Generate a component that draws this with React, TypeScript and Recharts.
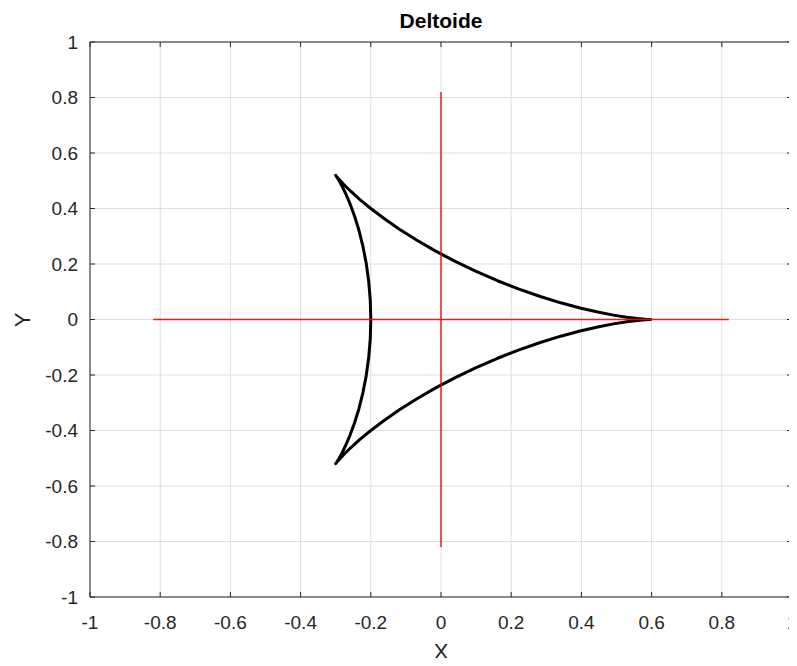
import React from 'react';
import { LineChart, Line, XAxis, YAxis, CartesianGrid } from 'recharts';

const axisTicks = [-1, -0.8, -0.6, -0.4, -0.2, 0, 0.2, 0.4, 0.6, 0.8, 1];

const chartTitle = 'Deltoide';
const xLabel = 'X';
const yLabel = 'Y';

// Deltoid curve points (closed path)
const deltoid = [
  { x: 0.6, y: 0 },
  { x: 0.5954, y: 0.0001 },
  { x: 0.5819, y: 0.0011 },
  { x: 0.5596, y: 0.0035 },
  { x: 0.5291, y: 0.0083 },
  { x: 0.4911, y: 0.0158 },
  { x: 0.4464, y: 0.0268 },
  { x: 0.3961, y: 0.0415 },
  { x: 0.3411, y: 0.0601 },
  { x: 0.2828, y: 0.0828 },
  { x: 0.2224, y: 0.1095 },
  { x: 0.161, y: 0.1397 },
  { x: 0.1, y: 0.1732 },
  { x: 0.0405, y: 0.2093 },
  { x: -0.0164, y: 0.2473 },
  { x: -0.0697, y: 0.2864 },
  { x: -0.1185, y: 0.3255 },
  { x: -0.1621, y: 0.3638 },
  { x: -0.2, y: 0.4 },
  { x: -0.2318, y: 0.4332 },
  { x: -0.2574, y: 0.4623 },
  { x: -0.2767, y: 0.4864 },
  { x: -0.29, y: 0.5044 },
  { x: -0.2976, y: 0.5157 },
  { x: -0.3, y: 0.5196 },
  { x: -0.2978, y: 0.5156 },
  { x: -0.2919, y: 0.5034 },
  { x: -0.2828, y: 0.4828 },
  { x: -0.2717, y: 0.4541 },
  { x: -0.2593, y: 0.4174 },
  { x: -0.2464, y: 0.3732 },
  { x: -0.234, y: 0.3223 },
  { x: -0.2227, y: 0.2654 },
  { x: -0.2132, y: 0.2035 },
  { x: -0.206, y: 0.1379 },
  { x: -0.2015, y: 0.0696 },
  { x: -0.2, y: 0 },
  { x: -0.2015, y: -0.0696 },
  { x: -0.206, y: -0.1379 },
  { x: -0.2132, y: -0.2035 },
  { x: -0.2227, y: -0.2654 },
  { x: -0.234, y: -0.3223 },
  { x: -0.2464, y: -0.3732 },
  { x: -0.2593, y: -0.4174 },
  { x: -0.2717, y: -0.4541 },
  { x: -0.2828, y: -0.4828 },
  { x: -0.2919, y: -0.5034 },
  { x: -0.2978, y: -0.5156 },
  { x: -0.3, y: -0.5196 },
  { x: -0.2976, y: -0.5157 },
  { x: -0.29, y: -0.5044 },
  { x: -0.2767, y: -0.4864 },
  { x: -0.2574, y: -0.4623 },
  { x: -0.2318, y: -0.4332 },
  { x: -0.2, y: -0.4 },
  { x: -0.1621, y: -0.3638 },
  { x: -0.1185, y: -0.3255 },
  { x: -0.0697, y: -0.2864 },
  { x: -0.0164, y: -0.2473 },
  { x: 0.0405, y: -0.2093 },
  { x: 0.1, y: -0.1732 },
  { x: 0.161, y: -0.1397 },
  { x: 0.2224, y: -0.1095 },
  { x: 0.2828, y: -0.0828 },
  { x: 0.3411, y: -0.0601 },
  { x: 0.3961, y: -0.0415 },
  { x: 0.4464, y: -0.0268 },
  { x: 0.4911, y: -0.0158 },
  { x: 0.5291, y: -0.0083 },
  { x: 0.5596, y: -0.0035 },
  { x: 0.5819, y: -0.0011 },
  { x: 0.5954, y: -0.0001 },
  { x: 0.6, y: 0 },
];

// Red reference axes
const horizontalAxisLine = [
  { x: -0.82, y: 0 },
  { x: 0.82, y: 0 },
];
const verticalAxisLine = [
  { x: 0, y: -0.82 },
  { x: 0, y: 0.82 },
];

const FONT = '"Liberation Sans", Arial, Helvetica, sans-serif';
const AXIS_COLOR = '#262626';
const tickStyle = { fill: AXIS_COLOR, fontSize: 19, fontFamily: FONT };
const fmt = (v: number) => String(v);
const blank = () => '';

const W = 797;
const H = 666;

export default function App() {
  return (
    <div
      style={{
        position: 'relative',
        width: W,
        height: H,
        margin: -8,
        fontFamily: FONT,
        background: '#fff',
        overflow: 'hidden',
      }}
    >
      <LineChart width={W} height={H} margin={{ top: 0, right: 0, bottom: 0, left: 0 }}>
        <CartesianGrid stroke="#dedede" strokeWidth={1} />
        <XAxis
          xAxisId={0}
          type="number"
          dataKey="x"
          domain={[-1, 1]}
          ticks={axisTicks}
          interval={0}
          tickFormatter={fmt}
          height={69}
          stroke={AXIS_COLOR}
          tickSize={-5}
          tickMargin={24}
          tick={tickStyle}
          allowDataOverflow
        />
        <XAxis
          xAxisId="top"
          orientation="top"
          type="number"
          dataKey="x"
          domain={[-1, 1]}
          ticks={axisTicks}
          interval={0}
          tickFormatter={blank}
          height={42}
          stroke={AXIS_COLOR}
          tickSize={-5}
          allowDataOverflow
        />
        <YAxis
          yAxisId={0}
          type="number"
          dataKey="y"
          domain={[-1, 1]}
          ticks={axisTicks}
          interval={0}
          tickFormatter={fmt}
          width={90}
          stroke={AXIS_COLOR}
          tickSize={-5}
          tickMargin={17}
          tick={tickStyle}
          allowDataOverflow
        />
        <YAxis
          yAxisId="right"
          orientation="right"
          type="number"
          dataKey="y"
          domain={[-1, 1]}
          ticks={axisTicks}
          interval={0}
          tickFormatter={blank}
          width={5}
          stroke={AXIS_COLOR}
          tickSize={-5}
          allowDataOverflow
        />
        <Line
          data={deltoid}
          dataKey="y"
          type="linear"
          stroke="#000000"
          strokeWidth={3}
          strokeLinejoin="round"
          dot={false}
          activeDot={false}
          isAnimationActive={false}
        />
        <Line
          data={horizontalAxisLine}
          dataKey="y"
          type="linear"
          stroke="#ff0000"
          strokeWidth={1.5}
          strokeOpacity={0.9}
          dot={false}
          activeDot={false}
          isAnimationActive={false}
        />
        <Line
          data={verticalAxisLine}
          dataKey="y"
          type="linear"
          stroke="#ff0000"
          strokeWidth={1.5}
          strokeOpacity={0.9}
          dot={false}
          activeDot={false}
          isAnimationActive={false}
        />
      </LineChart>
      <div
        style={{
          position: 'absolute',
          left: 90,
          width: 702,
          top: 10,
          height: 21,
          lineHeight: '21px',
          fontSize: 21,
          fontWeight: 'bold',
          textAlign: 'center',
          color: '#000',
        }}
      >
        {chartTitle}
      </div>
      <div
        style={{
          position: 'absolute',
          left: 90,
          width: 702,
          top: 641,
          height: 22,
          lineHeight: '22px',
          fontSize: 22,
          textAlign: 'center',
          color: AXIS_COLOR,
        }}
      >
        {xLabel}
      </div>
      <div
        style={{
          position: 'absolute',
          left: 22 - 277.5,
          width: 555,
          top: 319.5 - 11,
          height: 22,
          lineHeight: '22px',
          fontSize: 22,
          textAlign: 'center',
          color: AXIS_COLOR,
          transform: 'rotate(-90deg)',
        }}
      >
        {yLabel}
      </div>
    </div>
  );
}
